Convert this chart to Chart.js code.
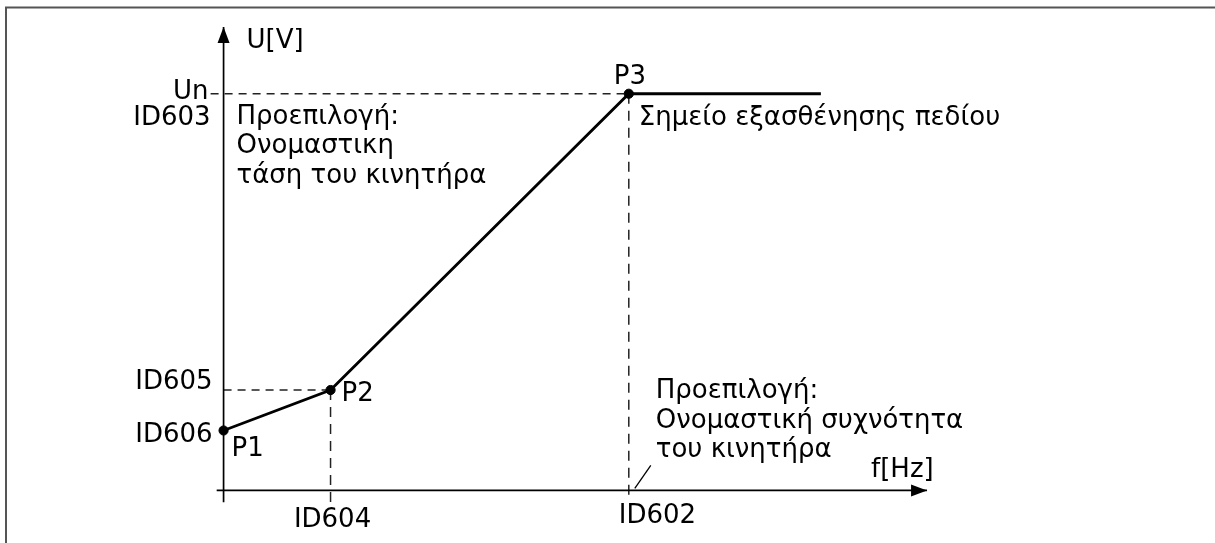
<!DOCTYPE html>
<html>
<head>
<meta charset="utf-8">
<script src="https://cdn.jsdelivr.net/npm/chart.js@4/dist/chart.umd.min.js"></script>
<style>
  html, body { margin: 0; padding: 0; background: #ffffff; }
  #wrap { position: relative; width: 1215px; height: 543px; }
</style>
</head>
<body>
<div id="wrap"><canvas id="c"></canvas></div>
<script>
// ---- data (values in % of nominal: frequency % of ID602, voltage % of Un) ----
const pointNames = ['P1', 'P2', 'P3'];
const freq = [0, 26.4, 100, 147.4];
const volt = [15.1, 25.3, 100, 100];
const yTickValues = [15.1, 25.3, 100];
const yTickLabels = ['ID606', 'ID605', 'ID603'];
const xTickValues = [26.4, 100];
const xTickLabels = ['ID604', 'ID602'];
const axisTitles = ['f[Hz]', 'U[V]'];
const unLabel = 'Un';
const noteVoltage = ['Προεπιλογή:', 'Ονομαστικη', 'τάση του κινητήρα'];
const noteFieldWeakening = 'Σημείο εξασθένησης πεδίου';
const noteFrequency = ['Προεπιλογή:', 'Ονομαστική συχνότητα', 'του κινητήρα'];

// ---- axis extents ----
const xAxisRange = [-1.7, 173.6];
const yAxisRange = [-2.96, 116.8];

const FONT = '26px "DejaVu Sans", Verdana, sans-serif';
const INK = '#000000';
const GUIDE = '#222222';

const guide = (pts, dash) => ({
  data: pts, showLine: true, borderColor: GUIDE, borderWidth: 1.5,
  borderDash: dash, pointRadius: 0, fill: false, order: 3
});

const datasets = [
  // axes
  { data: [{x: xAxisRange[0], y: 0}, {x: xAxisRange[1], y: 0}], showLine: true,
    borderColor: INK, borderWidth: 1.7, pointRadius: 0, order: 2 },
  { data: [{x: 0, y: yAxisRange[0]}, {x: 0, y: yAxisRange[1]}], showLine: true,
    borderColor: INK, borderWidth: 1.7, pointRadius: 0, order: 2 },
  // dashed guides
  guide([{x: -3.2, y: volt[2]}, {x: freq[2], y: volt[2]}], [8, 6]),
  guide([{x: 0, y: volt[1]}, {x: freq[1], y: volt[1]}], [8, 6]),
  guide([{x: freq[1], y: volt[1]}, {x: freq[1], y: yAxisRange[0]}], [10, 7]),
  guide([{x: freq[2], y: volt[2]}, {x: freq[2], y: yAxisRange[0] + 0.4}], [10, 7]),
  // U/f curve
  { data: freq.map((f, i) => ({x: f, y: volt[i]})), showLine: true,
    borderColor: '#000', borderWidth: 2.8, tension: 0,
    pointRadius: freq.map((f, i) => i < pointNames.length ? 4.6 : 0),
    pointBackgroundColor: '#000', pointBorderColor: '#000', pointBorderWidth: 1, order: 1 }
];

const diagramPlugin = {
  id: 'diagram',
  beforeDraw(chart) {
    const ctx = chart.ctx;
    ctx.save();
    ctx.fillStyle = '#fff';
    ctx.fillRect(0, 0, chart.width, chart.height);
    ctx.strokeStyle = '#555';
    ctx.lineWidth = 2;
    ctx.beginPath();
    ctx.moveTo(6, chart.height);
    ctx.lineTo(6, 7.5);
    ctx.lineTo(chart.width, 7.5);
    ctx.stroke();
    ctx.restore();
  },
  afterDatasetsDraw(chart) {
    const ctx = chart.ctx;
    const xs = chart.scales.x, ys = chart.scales.y;
    const px = v => xs.getPixelForValue(v), py = v => ys.getPixelForValue(v);
    ctx.save();
    ctx.fillStyle = '#000';
    // arrowheads
    const ox = px(0), oy = py(0);
    const xt = px(xAxisRange[1]), yt = py(yAxisRange[1]);
    ctx.beginPath();
    ctx.moveTo(xt, oy); ctx.lineTo(xt - 16, oy - 6); ctx.lineTo(xt - 16, oy + 6); ctx.closePath(); ctx.fill();
    ctx.beginPath();
    ctx.moveTo(ox, yt); ctx.lineTo(ox - 6, yt + 16); ctx.lineTo(ox + 6, yt + 16); ctx.closePath(); ctx.fill();
    // pointer for frequency note
    const fx = px(freq[2]);
    ctx.strokeStyle = INK; ctx.lineWidth = 1.3;
    ctx.beginPath(); ctx.moveTo(fx + 6, oy - 2); ctx.lineTo(fx + 22, oy - 25); ctx.stroke();

    // texts
    ctx.font = FONT;
    ctx.fillStyle = INK;
    ctx.textBaseline = 'alphabetic';
    const put = (t, x, y, align) => { ctx.textAlign = align; ctx.fillText(t, x, y); };
    const lines = (arr, x, y, step, align) => arr.forEach((t, i) => put(t, x, y + i * step, align));

    put(axisTitles[1], ox + 23, yt + 21, 'left');
    put(axisTitles[0], xt - 56, oy - 13, 'left');
    // y ticks
    put(unLabel, ox - 15, py(yTickValues[2]) + 5, 'right');
    put(yTickLabels[2], ox - 13, py(yTickValues[2]) + 31, 'right');
    put(yTickLabels[1], ox - 11, py(yTickValues[1]) - 1.5, 'right');
    put(yTickLabels[0], ox - 11, py(yTickValues[0]) + 11, 'right');
    // x ticks
    put(xTickLabels[0], px(xTickValues[0]) + 2, oy + 37, 'center');
    put(xTickLabels[1], px(xTickValues[1]) - 10, oy + 33, 'left');
    // point names
    put(pointNames[0], px(freq[0]) + 8, py(volt[0]) + 25, 'left');
    put(pointNames[1], px(freq[1]) + 11, py(volt[1]) + 10.5, 'left');
    put(pointNames[2], px(freq[2]) - 15, py(volt[2]) - 10, 'left');
    // notes
    lines(noteVoltage, ox + 13, py(volt[2]) + 30, 29.5, 'left');
    put(noteFieldWeakening, px(freq[2]) + 10, py(volt[2]) + 31, 'left');
    lines(noteFrequency, px(freq[2]) + 27, oy - 92, 29.5, 'left');
    ctx.restore();
  }
};

new Chart(document.getElementById('c'), {
  type: 'scatter',
  data: { datasets },
  options: {
    responsive: true,
    maintainAspectRatio: false,
    animation: false,
    layout: { padding: 0 },
    plugins: { legend: { display: false }, tooltip: { enabled: false } },
    scales: {
      x: { type: 'linear', min: -53.79, max: 243.28, display: false },
      y: { type: 'linear', min: -11.85, max: 122.22, display: false }
    }
  },
  plugins: [diagramPlugin]
});
</script>
</body>
</html>
